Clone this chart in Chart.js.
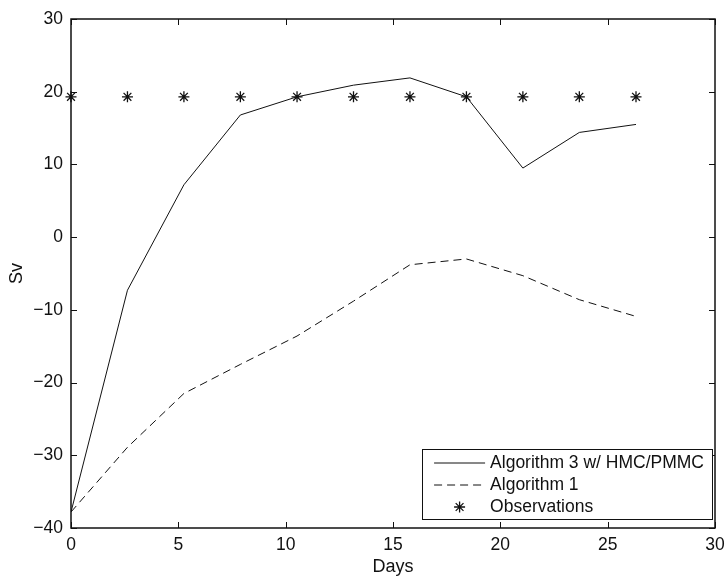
<!DOCTYPE html>
<html>
<head>
<meta charset="utf-8">
<script src="https://cdn.jsdelivr.net/npm/chart.js@4/dist/chart.umd.min.js"></script>
<style>
  html, body { margin: 0; padding: 0; background: #fff; }
  canvas { display: block; }
</style>
</head>
<body>
<canvas id="svChart" width="727" height="578"></canvas>
<script>
'use strict';

// data
const days = [0, 2.63, 5.26, 7.89, 10.53, 13.16, 15.79, 18.42, 21.05, 23.68, 26.32];
const alg3 = [-37.8, -7.3, 7.2, 16.8, 19.3, 20.9, 21.9, 19.3, 9.5, 14.4, 15.5];
const alg1 = [-37.8, -28.9, -21.5, -17.5, -13.6, -8.8, -3.8, -3.0, -5.3, -8.6, -10.9];
const obs = [19.3, 19.3, 19.3, 19.3, 19.3, 19.3, 19.3, 19.3, 19.3, 19.3, 19.3];
const xTicks = [0, 5, 10, 15, 20, 25, 30];
const yTicks = [-40, -30, -20, -10, 0, 10, 20, 30];

const ink = '#111';
const fontFamily = '"Liberation Sans", Arial, Helvetica, sans-serif';

const toPoints = (ys) => days.map((d, i) => ({x: d, y: ys[i]}));
// matlab prints a real minus sign
const minusLabel = (v) => String(v).replace('-', '\u2212');

// matlab style box with inward ticks on all four sides
const boxPlugin = {
    id: 'box',
    afterDraw(chart) {
        const {ctx, chartArea: a, scales} = chart;
        const tl = 6;
        ctx.save();
        ctx.strokeStyle = ink;
        ctx.lineWidth = 1;
        ctx.beginPath();
        xTicks.forEach(v => {
            const px = Math.round(scales.x.getPixelForValue(v)) + 0.5;
            ctx.moveTo(px, a.bottom); ctx.lineTo(px, a.bottom - tl);
            ctx.moveTo(px, a.top); ctx.lineTo(px, a.top + tl);
        });
        yTicks.forEach(v => {
            const py = Math.round(scales.y.getPixelForValue(v)) + 0.5;
            ctx.moveTo(a.left, py); ctx.lineTo(a.left + tl, py);
            ctx.moveTo(a.right, py); ctx.lineTo(a.right - tl, py);
        });
        ctx.stroke();
        ctx.lineWidth = 1.5;
        ctx.strokeRect(a.left, a.top, a.right - a.left, a.bottom - a.top);
        ctx.restore();
    }
};

// legend drawn inside the axes, lower right
const insideLegend = {
    id: 'insideLegend',
    afterDraw(chart) {
        const {ctx, chartArea: a} = chart;
        const sets = chart.data.datasets;
        ctx.save();
        ctx.font = '17.5px ' + fontFamily;
        const textW = Math.max(...sets.map(s => ctx.measureText(s.label).width));
        const lineW = 51, padL = 12, gap = 5, padR = 8, rowH = 22;
        const w = padL + lineW + gap + textW + padR;
        const h = 14 + rowH * (sets.length - 1) + 12;
        const right = a.right - 3, bottom = a.bottom - 9;
        const left = right - w, top = bottom - h;
        ctx.fillStyle = '#fff';
        ctx.fillRect(left, top, w, h);
        ctx.strokeStyle = ink;
        ctx.lineWidth = 1;
        ctx.strokeRect(Math.round(left) + 0.5, Math.round(top) + 0.5, Math.round(w), Math.round(h));
        sets.forEach((s, i) => {
            const cy = top + 14 + i * rowH;
            const x0 = left + padL;
            ctx.strokeStyle = s.borderColor;
            ctx.lineWidth = 1;
            if (s.showLine === false) {
                ctx.lineWidth = s.pointBorderWidth;
                Chart.helpers.drawPoint(ctx, {pointStyle: s.pointStyle, radius: s.pointRadius, borderWidth: s.pointBorderWidth}, x0 + lineW / 2, cy);
            } else {
                ctx.setLineDash(s.borderDash || []);
                ctx.beginPath();
                ctx.moveTo(x0, cy);
                ctx.lineTo(x0 + lineW, cy);
                ctx.stroke();
                ctx.setLineDash([]);
            }
            ctx.fillStyle = ink;
            ctx.textBaseline = 'middle';
            ctx.textAlign = 'left';
            ctx.fillText(s.label, x0 + lineW + gap, cy);
        });
        ctx.restore();
    }
};

const svData = {
    datasets: [{
        label: 'Algorithm 3 w/ HMC/PMMC',
        data: toPoints(alg3),
        showLine: true,
        borderColor: ink,
        borderWidth: 1,
        pointRadius: 0,
        tension: 0
    }, {
        label: 'Algorithm 1',
        data: toPoints(alg1),
        showLine: true,
        borderColor: ink,
        borderWidth: 1,
        borderDash: [8, 5],
        pointRadius: 0,
        tension: 0
    }, {
        label: 'Observations',
        data: toPoints(obs),
        showLine: false,
        borderColor: ink,
        backgroundColor: ink,
        pointStyle: 'star',
        pointRadius: 5.5,
        pointBorderWidth: 1.3,
        clip: false
    }]
};

const svCtx = document.getElementById('svChart').getContext('2d');
const svChart = new Chart(svCtx, {
    type: 'scatter',
    data: svData,
    options: {
        responsive: false,
        animation: false,
        devicePixelRatio: 1,
        layout: {padding: {top: 19, right: 12, left: 0, bottom: 0}},
        plugins: {
            legend: {display: false},
            tooltip: {enabled: false}
        },
        scales: {
            x: {
                type: 'linear',
                min: 0,
                max: 30,
                afterFit: (s) => { s.height = 50; s.paddingLeft = 0; s.paddingRight = 0; },
                afterBuildTicks: (s) => { s.ticks = xTicks.map(v => ({value: v})); },
                grid: {display: false, drawTicks: false},
                border: {display: false},
                ticks: {color: ink, font: {family: fontFamily, size: 17.5}, padding: 7, maxRotation: 0},
                title: {display: true, text: 'Days', color: ink, font: {family: fontFamily, size: 18}, padding: 0}
            },
            y: {
                type: 'linear',
                min: -40,
                max: 30,
                afterFit: (s) => { s.width = 71; s.paddingTop = 0; s.paddingBottom = 0; },
                afterBuildTicks: (s) => { s.ticks = yTicks.map(v => ({value: v})); },
                grid: {display: false, drawTicks: false},
                border: {display: false},
                ticks: {color: ink, font: {family: fontFamily, size: 17.5}, padding: 8, callback: minusLabel},
                title: {display: true, text: 'Sv', color: ink, font: {family: fontFamily, size: 18}, padding: {top: 6, bottom: 0}}
            }
        }
    },
    plugins: [boxPlugin, insideLegend]
});
</script>
</body>
</html>
